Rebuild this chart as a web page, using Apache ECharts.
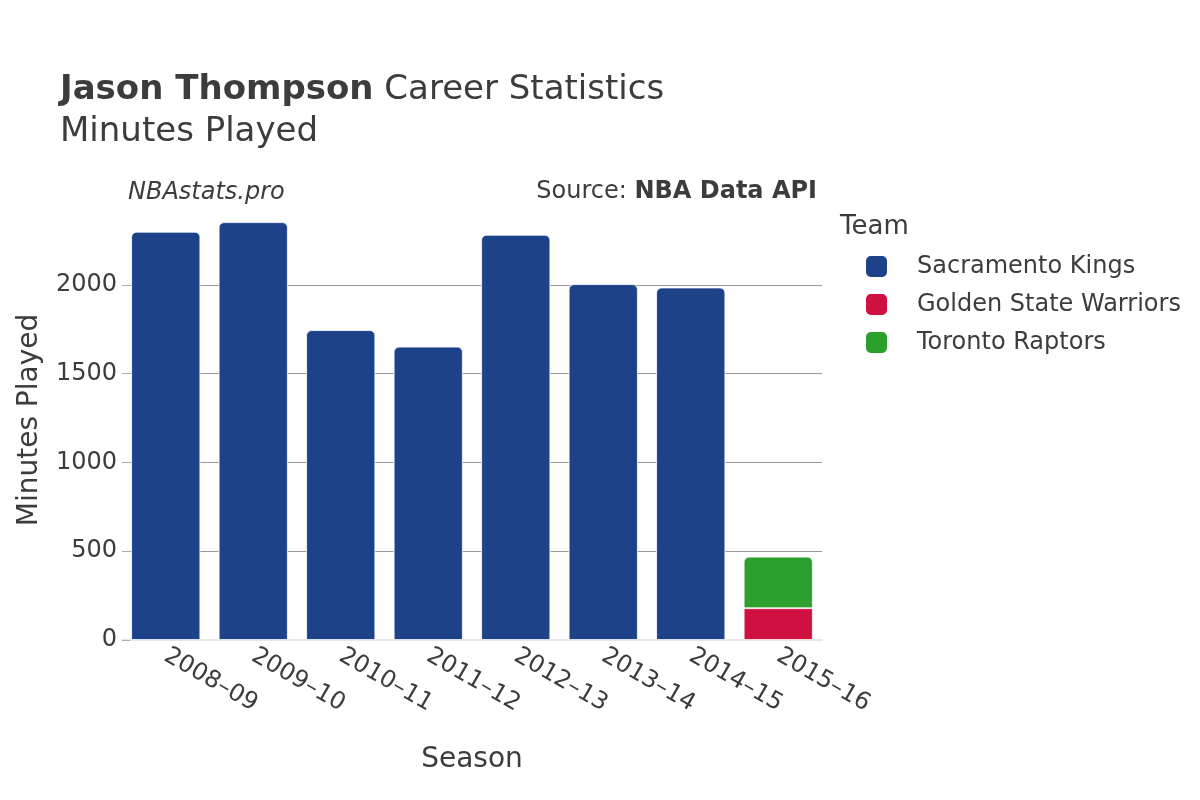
<!DOCTYPE html>
<html>
<head>
<meta charset="utf-8">
<script src="https://cdn.jsdelivr.net/npm/echarts@6/dist/echarts.min.js"></script>
<style>html,body{margin:0;padding:0;background:#fff}#c{width:1200px;height:800px}</style>
</head>
<body>
<div id="c"></div>
<script>
const seasons = ['2008–09','2009–10','2010–11','2011–12','2012–13','2013–14','2014–15','2015–16'];
const kings = [2299, 2353, 1745, 1652, 2282, 2004, 1985, null];
const warriors = [null, null, null, null, null, null, null, 179];
const raptors = [null, null, null, null, null, null, null, 290];
const yTicks = [0, 500, 1000, 1500, 2000];
const teamNames = ['Sacramento Kings', 'Golden State Warriors', 'Toronto Raptors'];
const teamColors = ['#1D428A', '#CE1141', '#2CA02C'];

const FONT = 'DejaVu Sans';
const TXT = '#3c3c3c';
const chart = echarts.init(document.getElementById('c'), null, {renderer: 'canvas'});

function barSeries(name, data, color, radius) {
  return {
    name: name, type: 'bar', stack: 'total', data: data,
    barCategoryGap: '21%',
    itemStyle: {color: color, borderRadius: radius, borderColor: '#fff', borderWidth: 0.8},
    emphasis: {disabled: true}
  };
}

chart.setOption({
  backgroundColor: '#fff',
  animation: false,
  title: [
    {text: '{b|Jason Thompson} Career Statistics', left: 60, top: 70, padding: 0,
     textStyle: {fontFamily: FONT, fontSize: 34, fontWeight: 'normal', color: TXT, lineHeight: 40,
       rich: {b: {fontFamily: FONT, fontSize: 34, fontWeight: 'bold', color: TXT, lineHeight: 40}}}},
    {text: 'Minutes Played', left: 60, top: 112, padding: 0,
     textStyle: {fontFamily: FONT, fontSize: 34, fontWeight: 'normal', color: TXT, lineHeight: 40}},
    {text: 'NBAstats.pro', left: 128, top: 178, padding: 0,
     textStyle: {fontFamily: FONT, fontSize: 24, fontStyle: 'italic', fontWeight: 'normal', color: TXT, lineHeight: 30}},
    {text: 'Source: {b|NBA Data API}', right: 383, top: 177, padding: 0,
     textStyle: {fontFamily: FONT, fontSize: 24, fontWeight: 'normal', color: TXT, lineHeight: 30,
       rich: {b: {fontFamily: FONT, fontSize: 24, fontWeight: 'bold', color: TXT, lineHeight: 30}}}},
    {text: 'Team', left: 840, top: 212, padding: 0,
     textStyle: {fontFamily: FONT, fontSize: 26, fontWeight: 'normal', color: TXT, lineHeight: 30}}
  ],
  legend: {
    orient: 'vertical', left: 864, top: 254, padding: 0,
    itemWidth: 23, itemHeight: 23, itemGap: 13, icon: 'roundRect',
    data: teamNames,
    textStyle: {fontFamily: FONT, fontSize: 24, color: TXT, padding: [0, 0, 0, 24]}
  },
  grid: {left: 122, right: 378, top: 200, bottom: 160},
  xAxis: {
    type: 'category', data: seasons,
    name: 'Season', nameLocation: 'middle', nameGap: 106,
    nameTextStyle: {fontFamily: FONT, fontSize: 28, color: TXT},
    axisLine: {show: true, lineStyle: {color: '#e6e6e6', width: 2}},
    axisTick: {show: false},
    axisLabel: {rotate: -30, fontFamily: FONT, fontSize: 24, color: TXT, margin: 14, interval: 0}
  },
  yAxis: {
    type: 'value', min: 0, max: 2478, interval: 500,
    name: 'Minutes Played', nameLocation: 'middle', nameGap: 78,
    nameTextStyle: {fontFamily: FONT, fontSize: 28, color: TXT},
    axisLine: {show: false},
    axisTick: {show: true, inside: true, length: 8, lineStyle: {color: '#aaa'}, customValues: yTicks},
    axisLabel: {fontFamily: FONT, fontSize: 24, color: TXT, margin: 5, customValues: yTicks,
      formatter: function (v) { return String(v); }},
    splitLine: {show: true, showMinLine: false, lineStyle: {color: '#999', width: 1}}
  },
  series: [
    barSeries(teamNames[0], kings, teamColors[0], [5, 5, 0, 0]),
    barSeries(teamNames[1], warriors, teamColors[1], 0),
    barSeries(teamNames[2], raptors, teamColors[2], [5, 5, 0, 0])
  ]
});
</script>
</body>
</html>
